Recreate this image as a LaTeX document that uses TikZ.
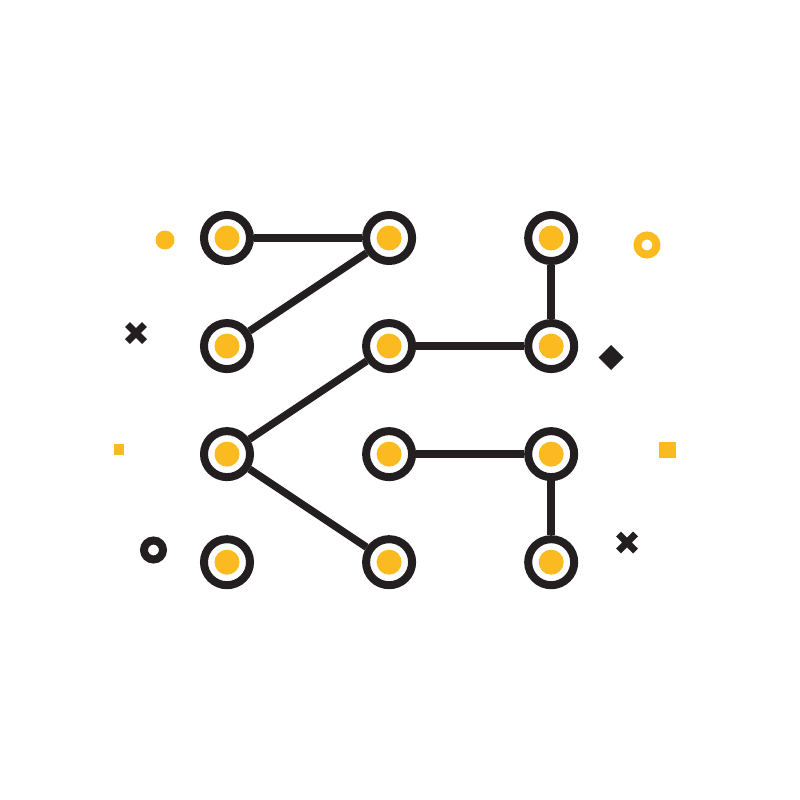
\documentclass[tikz,border=0pt]{standalone}
\usepackage{tikz}
\usetikzlibrary{positioning}

\definecolor{ink}{HTML}{231F20}
\definecolor{gold}{HTML}{FBBA1F}

\tikzset{
    dot/.style={circle, draw=ink, fill=white, line width=0.08cm, inner sep=0pt,
        minimum size=0.46cm,
        path picture={\fill[gold] (path picture bounding box.center) circle (0.125cm);}},
    wire/.style={draw=ink, line width=0.075cm},
    cross/.style={draw=ink, line width=0.07cm}
}

\begin{document}
\begin{tikzpicture}[x=0.01cm, y=-0.01cm, node distance=1.08cm]
    \useasboundingbox (0,0) rectangle (800,800);

    % Nodes {a1..a4, b1..b4, c1..c4}
    \node [dot]     (a1)  at (227,238)   {};
    \node [dot]     (a2)  [below of=a1]  {};
    \node [dot]     (a3)  [below of=a2]  {};
    \node [dot]     (a4)  [below of=a3]  {};
    \node [dot]     (b1)  [right of=a1, node distance=1.62cm]  {};
    \node [dot]     (b2)  [below of=b1]  {};
    \node [dot]     (b3)  [below of=b2]  {};
    \node [dot]     (b4)  [below of=b3]  {};
    \node [dot]     (c1)  [right of=b1, node distance=1.62cm]  {};
    \node [dot]     (c2)  [below of=c1]  {};
    \node [dot]     (c3)  [below of=c2]  {};
    \node [dot]     (c4)  [below of=c3]  {};

    % Paths
    \path [wire]  (a1) -- (b1);
    \path [wire]  (b1) -- (a2);
    \path [wire]  (b2) -- (c2);
    \path [wire]  (c1) -- (c2);
    \path [wire]  (b2) -- (a3);
    \path [wire]  (a3) -- (b4);
    \path [wire]  (b3) -- (c3);
    \path [wire]  (c3) -- (c4);

    % Scattered marks
    \fill [gold] (165,240) circle (9.5);
    \draw [gold, line width=0.08cm] (647,245) circle (9.5);
    \draw [ink, line width=0.08cm] (153.5,550) circle (9.5);
    \fill [gold] (114,444) rectangle (124,455);
    \fill [gold] (659,442) rectangle (676,458);
    \fill [ink] (611,345) -- (623.5,357.5) -- (611,370) -- (598.5,357.5) -- cycle;
    \draw [cross] (127.5,324.5) -- (144.5,341.5) (127.5,341.5) -- (144.5,324.5);
    \draw [cross] (618.5,534) -- (635.5,551) (618.5,551) -- (635.5,534);

\end{tikzpicture}
\end{document}
